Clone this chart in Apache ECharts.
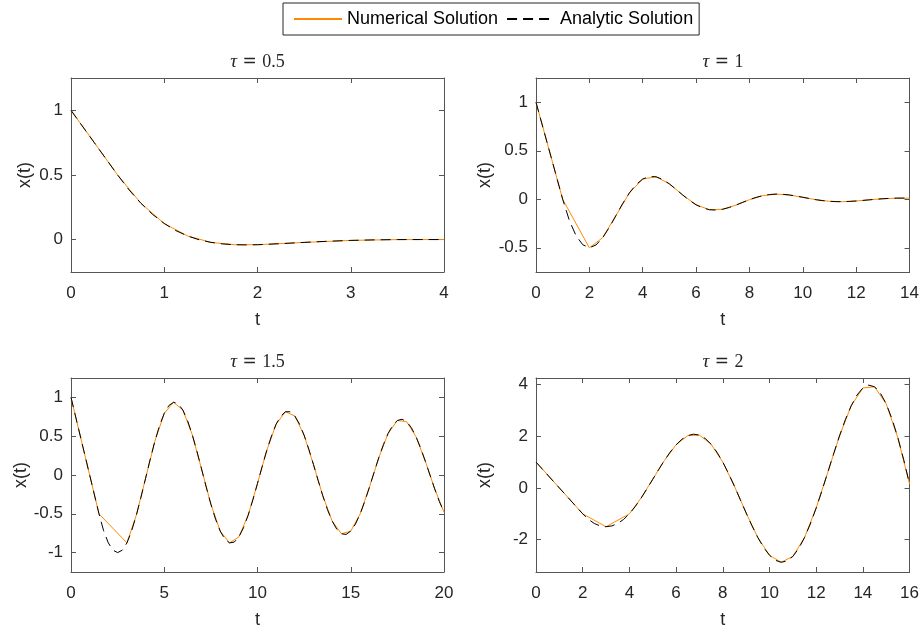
<!DOCTYPE html>
<html><head><meta charset="utf-8">
<script src="https://cdn.jsdelivr.net/npm/echarts@6/dist/echarts.min.js"></script>
<style>html,body{margin:0;padding:0;background:#fff}#c{width:922px;height:630px}</style>
</head><body><div id="c"></div>
<script>
// ---------- data ----------
const seriesNames = ['Numerical Solution', 'Analytic Solution'];
const tauLabels = ['0.5', '1', '1.5', '2'];
const xMaxs = [4, 14, 20, 16];
const xSteps = [1, 2, 5, 2];
const yMins = [-0.25, -0.75, -1.25, -3.25];
const yMaxs = [1.25, 1.25, 1.25, 4.25];
const yTicks1 = [0, 0.5, 1];
const yTicks2 = [-0.5, 0, 0.5, 1];
const yTicks3 = [-1, -0.5, 0, 0.5, 1];
const yTicks4 = [-2, 0, 2, 4];

// tau = 0.5
const tA1 = [0,0.25,0.5,0.625,0.75,0.875,1,1.125,1.25,1.375,1.5,1.625,1.75,1.875,2,2.25,2.5,2.75,3,3.25,3.5,3.75,4];
const xA1 = [1,0.75,0.5,0.3828,0.2813,0.1953,0.125,0.0700,0.0286,-0.0010,-0.0208,-0.0330,-0.0389,-0.0406,-0.0391,-0.0308,-0.0211,-0.0124,-0.0058,-0.0016,0.0006,0.0010,0.0009];
const tN1 = [0,0.25,0.5,0.75,1,1.25,1.5,1.75,2,2.5,3,3.5,4];
const xN1 = [1,0.75,0.5,0.2813,0.125,0.0286,-0.0208,-0.0389,-0.0391,-0.0211,-0.0058,0.0006,0.0009];

// tau = 1
const tA2 = [0,1,1.25,1.5,1.75,2,2.25,2.5,2.75,3,3.25,3.5,3.75,4,4.25,4.5,4.75,5,5.25,5.5,5.75,6,6.25,6.5,6.75,7,7.25,7.5,7.75,8,8.25,8.5,8.75,9,9.25,9.5,9.75,10,10.25,10.5,10.75,11,11.25,11.5,11.75,12,12.25,12.5,12.75,13,13.25,13.5,13.75,14];
const xA2 = [1,0,-0.2188,-0.375,-0.4688,-0.5,-0.4714,-0.3958,-0.2891,-0.1667,-0.0441,0.0651,0.1512,0.2083,0.2346,0.2315,0.2039,0.1583,0.1023,0.0435,-0.0115,-0.0570,-0.0897,-0.1079,-0.1118,-0.1029,-0.0843,-0.0593,-0.0315,-0.0045,0.0191,0.0372,0.0485,0.0530,0.0511,0.0439,0.0330,0.0202,0.0071,-0.0049,-0.0146,-0.0213,-0.0247,-0.0249,-0.0224,-0.0178,-0.0121,-0.0058,0.0002,0.0053,0.0090,0.0113,0.0120,0.0113];
const tN2 = [0,1,2,2.5,3,3.5,4,4.5,5,5.5,6,6.5,7,7.5,8,8.5,9,9.5,10,10.5,11,11.5,12,12.5,13,13.5,14];
const xN2 = [1,0,-0.5,-0.3958,-0.1667,0.0651,0.2083,0.2315,0.1583,0.0435,-0.0570,-0.1079,-0.1029,-0.0593,-0.0045,0.0372,0.0530,0.0439,0.0202,-0.0049,-0.0213,-0.0249,-0.0178,-0.0058,0.0053,0.0113,0.0113];

// tau = 1.5
const tA3 = [0,1.5,1.75,2,2.25,2.5,2.75,3,3.25,3.5,3.75,4,4.25,4.5,4.75,5,5.25,5.5,5.75,6,6.25,6.5,6.75,7,7.25,7.5,7.75,8,8.25,8.5,8.75,9,9.25,9.5,9.75,10,10.25,10.5,10.75,11,11.25,11.5,11.75,12,12.25,12.5,12.75,13,13.25,13.5,13.75,14,14.25,14.5,14.75,15,15.25,15.5,15.75,16,16.25,16.5,16.75,17,17.25,17.5,17.75,18,18.25,18.5,18.75,19,19.25,19.5,19.75,20];
const xA3 = [1,-0.5,-0.7188,-0.875,-0.9688,-1.0,-0.9688,-0.875,-0.7214,-0.5208,-0.2891,-0.0417,0.2057,0.4375,0.6382,0.7943,0.8960,0.9375,0.9168,0.8359,0.7007,0.5206,0.3081,0.0776,-0.1555,-0.3758,-0.5689,-0.7224,-0.8266,-0.8750,-0.8652,-0.7983,-0.6795,-0.5171,-0.3224,-0.1085,0.1103,0.3194,0.5031,0.6555,0.7599,0.8151,0.8149,0.7607,0.6573,0.5118,0.3339,0.1360,-0.0689,-0.2670,-0.4452,-0.5921,-0.6984,-0.7574,-0.7658,-0.7235,-0.6340,-0.5035,-0.3413,-0.1583,0.0332,0.2204,0.3910,0.5340,0.6401,0.7029,0.7186,0.6867,0.6098,0.4935,0.3458,0.1770,-0.0017,-0.1783,-0.3413,-0.4799];
const tN3 = [0,1.5,3,3.5,4,4.5,5,5.5,6,6.5,7,7.5,8,8.5,9,9.5,10,10.5,11,11.5,12,12.5,13,13.5,14,14.5,15,15.5,16,16.5,17,17.5,18,18.5,19,19.5,20];
const xN3 = [1,-0.5,-0.875,-0.5208,-0.0417,0.4375,0.7943,0.9375,0.8359,0.5206,0.0776,-0.3758,-0.7224,-0.8750,-0.7983,-0.5171,-0.1085,0.3194,0.6555,0.8151,0.7607,0.5118,0.1360,-0.2670,-0.5921,-0.7574,-0.7235,-0.5035,-0.1583,0.2204,0.5340,0.7029,0.6867,0.4935,0.1770,-0.1783,-0.4799];

// tau = 2
const tA4 = [0,2,2.25,2.5,2.75,3,3.25,3.5,3.75,4,4.25,4.5,4.75,5,5.25,5.5,5.75,6,6.25,6.5,6.75,7,7.25,7.5,7.75,8,8.25,8.5,8.75,9,9.25,9.5,9.75,10,10.25,10.5,10.75,11,11.25,11.5,11.75,12,12.25,12.5,12.75,13,13.25,13.5,13.75,14,14.25,14.5,14.75,15,15.25,15.5,15.75,16];
const xA4 = [1,-1,-1.2188,-1.375,-1.4688,-1.5,-1.4688,-1.375,-1.2188,-1,-0.7214,-0.3958,-0.0391,0.3333,0.7057,1.0625,1.3880,1.6667,1.8830,2.0234,2.0783,2.0417,1.9116,1.6901,1.3830,1.0,0.5549,0.0648,-0.4497,-0.9667,-1.4628,-1.9149,-2.3007,-2.6001,-2.7955,-2.8737,-2.8259,-2.6487,-2.3443,-1.9210,-1.3924,-0.7778,-0.1011,0.6102,1.3253,2.0124,2.6391,3.1746,3.5908,3.8636,3.9745,3.9113,3.6691,3.2510,2.6680,1.9391,1.0907,0.1556];
const tN4 = [0,2,3,4,4.5,5,5.5,6,6.5,7,7.5,8,8.5,9,9.5,10,10.5,11,11.5,12,12.5,13,13.5,14,14.5,15,15.5,16];
const xN4 = [1,-1,-1.5,-1,-0.3958,0.3333,1.0625,1.6667,2.0234,2.0417,1.6901,1.0,0.0648,-0.9667,-1.9149,-2.6001,-2.8737,-2.6487,-1.9210,-0.7778,0.6102,2.0124,3.1746,3.8636,3.9113,3.2510,1.9391,0.1556];

// ---------- layout / style ----------
const FF = '"Liberation Sans", Arial, Helvetica, sans-serif';
const SERIF = '"Liberation Serif", serif';
const TXT = '#262626';
const AX = '#555555';
const ORANGE = '#ff8a00';
const gridPos = [
  {left: 71, top: 78, width: 373, height: 194},
  {left: 536, top: 78, width: 374, height: 194},
  {left: 71, top: 378, width: 373, height: 195},
  {left: 536, top: 378, width: 374, height: 195}
];
const yTicksAll = [yTicks1, yTicks2, yTicks3, yTicks4];
const analytic = [[tA1, xA1], [tA2, xA2], [tA3, xA3], [tA4, xA4]];
const numerical = [[tN1, xN1], [tN2, xN2], [tN3, xN3], [tN4, xN4]];
const pairs = (ts, xs) => ts.map((t, j) => [t, xs[j]]);

const xAxes = [], yAxes = [], series = [], graphics = [];
gridPos.forEach((g, i) => {
  const common = {
    type: 'value', gridIndex: i, min: 0, max: xMaxs[i], interval: xSteps[i],
    axisLine: {show: true, onZero: false, lineStyle: {color: AX, width: 1}},
    axisTick: {show: true, inside: true, length: 5, lineStyle: {color: AX}},
    splitLine: {show: false}
  };
  xAxes.push(Object.assign({}, common, {
    position: 'bottom',
    axisLabel: {show: true, color: TXT, fontSize: 17, fontFamily: FF, margin: 13},
    name: 't', nameLocation: 'middle', nameGap: 39,
    nameTextStyle: {color: TXT, fontSize: 18, fontFamily: FF}
  }));
  xAxes.push(Object.assign({}, common, {position: 'top', axisLabel: {show: false}}));
  const ycommon = {
    type: 'value', gridIndex: i, min: yMins[i], max: yMaxs[i],
    axisLine: {show: true, onZero: false, lineStyle: {color: AX, width: 1}},
    axisTick: {show: true, inside: true, length: 5, customValues: yTicksAll[i], lineStyle: {color: AX}},
    splitLine: {show: false}
  };
  yAxes.push(Object.assign({}, ycommon, {
    position: 'left',
    axisLabel: {show: true, customValues: yTicksAll[i], color: TXT, fontSize: 17, fontFamily: FF, margin: 8},
    name: 'x(t)', nameLocation: 'middle', nameGap: (i % 2 ? 42 : 37),
    nameTextStyle: {color: TXT, fontSize: 18, fontFamily: FF}
  }));
  yAxes.push(Object.assign({}, ycommon, {position: 'right', axisLabel: {show: false}}));

  series.push({
    type: 'line', name: seriesNames[0], xAxisIndex: 2 * i, yAxisIndex: 2 * i,
    data: pairs(numerical[i][0], numerical[i][1]),
    showSymbol: false, symbol: 'none', z: 2,
    lineStyle: {color: ORANGE, width: 1}, itemStyle: {color: ORANGE}
  });
  series.push({
    type: 'line', name: seriesNames[1], xAxisIndex: 2 * i, yAxisIndex: 2 * i,
    data: pairs(analytic[i][0], analytic[i][1]),
    showSymbol: false, symbol: 'none', z: 3,
    lineStyle: {color: '#000', width: 1, type: [10, 6]}, itemStyle: {color: '#000'}
  });

  graphics.push({
    type: 'text', x: g.left + g.width / 2, y: g.top - 16,
    style: {
      text: '{i|τ}{s| }{e|=}{s| }{n|' + tauLabels[i] + '}',
      align: 'center', verticalAlign: 'middle',
      rich: {
        i: {fontFamily: SERIF, fontStyle: 'italic', fontSize: 19, fill: TXT},
        s: {fontFamily: SERIF, fontSize: 22, fill: TXT},
        e: {fontFamily: '"DejaVu Sans", sans-serif', fontSize: 17, fill: TXT},
        n: {fontFamily: SERIF, fontSize: 18, fill: TXT}
      }
    }
  });
});

const chart = echarts.init(document.getElementById('c'), null, {renderer: 'canvas'});
chart.setOption({
  animation: false,
  backgroundColor: '#fff',
  grid: gridPos,
  xAxis: xAxes,
  yAxis: yAxes,
  series: series,
  graphic: graphics,
  legend: {
    data: seriesNames, left: 283, top: 3,
    padding: [7, 6, 7, 10], itemWidth: 48, itemHeight: 14, itemGap: 8,
    borderColor: '#262626', borderWidth: 1, backgroundColor: '#fff',
    itemStyle: {opacity: 0},
    textStyle: {fontSize: 18, color: '#000', fontFamily: FF}
  }
});
</script>
</body></html>
